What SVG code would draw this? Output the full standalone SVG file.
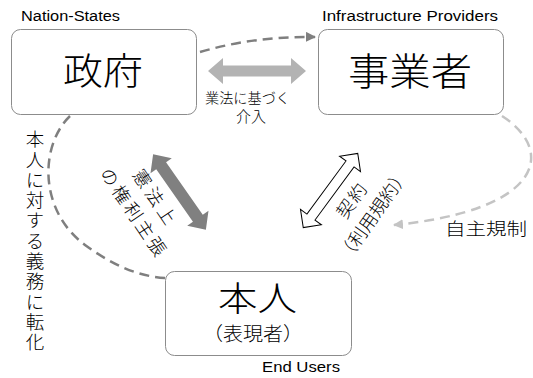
<svg xmlns="http://www.w3.org/2000/svg" width="533" height="378" viewBox="0 0 533 378">
<style>
.box{fill:#fff;stroke:#8c8c8c;stroke-width:1}
.en{font-family:"Liberation Sans",Arial,sans-serif;font-size:14px;fill:#000}
.jp{font-family:"Noto Sans CJK JP","Noto Sans",sans-serif;font-weight:300;fill:#000}
.dash{fill:none;stroke-width:2.5;stroke-dasharray:10 6}
</style>
<defs>
<marker id="ahDark" viewBox="0 0 10 10" refX="9" refY="5" markerWidth="4" markerHeight="4" orient="auto" markerUnits="strokeWidth">
<path d="M0,0 L10,5 L0,10 z" fill="#7f7f7f"/>
</marker>
<marker id="ahLight" viewBox="0 0 10 10" refX="9" refY="5" markerWidth="4" markerHeight="4" orient="auto" markerUnits="strokeWidth">
<path d="M0,0 L10,5 L0,10 z" fill="#c4c4c4"/>
</marker>
</defs>
<g id="connectors">
<path class="dash" stroke="#7f7f7f" d="M200,52 Q255,36 315,37" marker-end="url(#ahDark)"/>
<path class="dash" stroke="#c4c4c4" d="M502,116 C555,150 545,210 394,225" marker-end="url(#ahLight)"/>
<path class="dash" stroke="#7f7f7f" d="M70,116 C40,145 38,210 85,245 C110,263 135,276 165,278"/>
<polygon fill="#b3b3b3" points="208,71 223,58 223,65.5 291,65.5 291,58 306,71 291,84 291,76.5 223,76.5 223,84"/>
<g transform="translate(179.5,192) rotate(55)">
<polygon fill="#808080" points="-46,0 -32,-13 -32,-6 32,-6 32,-13 46,0 32,13 32,6 -32,6 -32,13"/>
</g>
<g transform="translate(330.5,190.5) rotate(-53.7)">
<polygon fill="#fff" stroke="#000" stroke-width="1" points="-46,0 -33,-13 -33,-5 33,-5 33,-13 46,0 33,13 33,5 -33,5 -33,13"/>
</g>
</g>
<g id="gov">
<rect class="box" x="11.5" y="29.5" width="185" height="85" rx="9"/>
<text class="jp" x="63" y="69" font-size="37" dominant-baseline="central" textLength="80" lengthAdjust="spacingAndGlyphs">政府</text>
<text class="en" x="21" y="21" textLength="99" lengthAdjust="spacingAndGlyphs">Nation-States</text>
</g>
<g id="biz">
<rect class="box" x="318.5" y="29.5" width="185" height="85" rx="9"/>
<text class="jp" x="348" y="68" font-size="38" dominant-baseline="central" textLength="124" lengthAdjust="spacingAndGlyphs">事業者</text>
<text class="en" x="322" y="21" textLength="176" lengthAdjust="spacingAndGlyphs">Infrastructure Providers</text>
</g>
<g id="user">
<rect class="box" x="165.5" y="271.5" width="186" height="84" rx="9"/>
<text class="jp" x="218" y="296" font-size="34" dominant-baseline="central" textLength="79" lengthAdjust="spacingAndGlyphs">本人</text>
<text class="jp" x="203" y="332" font-size="19" dominant-baseline="central" textLength="100" lengthAdjust="spacingAndGlyphs">（表現者）</text>
<text class="en" x="262" y="372" textLength="78" lengthAdjust="spacingAndGlyphs">End Users</text>
</g>
<g id="labels">
<text class="jp" x="205" y="97" font-size="14" dominant-baseline="central" textLength="85" lengthAdjust="spacingAndGlyphs">業法に基づく</text>
<text class="jp" x="251" y="115.5" font-size="15" dominant-baseline="central" text-anchor="middle">介入</text>
<text class="jp" x="445" y="227.5" font-size="17" dominant-baseline="central" textLength="82" lengthAdjust="spacingAndGlyphs">自主規制</text>
<text class="jp" x="35" y="130" font-size="18.5" writing-mode="vertical-rl" style="writing-mode:vertical-rl" letter-spacing="1.8">本人に対する義務に転化</text>
<g transform="translate(146,205) rotate(56)">
<text class="jp" x="0" y="-13" font-size="18" dominant-baseline="central" text-anchor="middle" letter-spacing="4">憲法上</text>
<text class="jp" x="0" y="13" font-size="18" dominant-baseline="central" text-anchor="middle" letter-spacing="3">の権利主張</text>
</g>
<g transform="translate(361.5,206.5) rotate(-55)">
<text class="jp" x="0" y="-13" font-size="18" dominant-baseline="central" text-anchor="middle" letter-spacing="2">契約</text>
<text class="jp" x="0" y="13" font-size="18" dominant-baseline="central" text-anchor="middle">（利用規約）</text>
</g>
</g>
</svg>
